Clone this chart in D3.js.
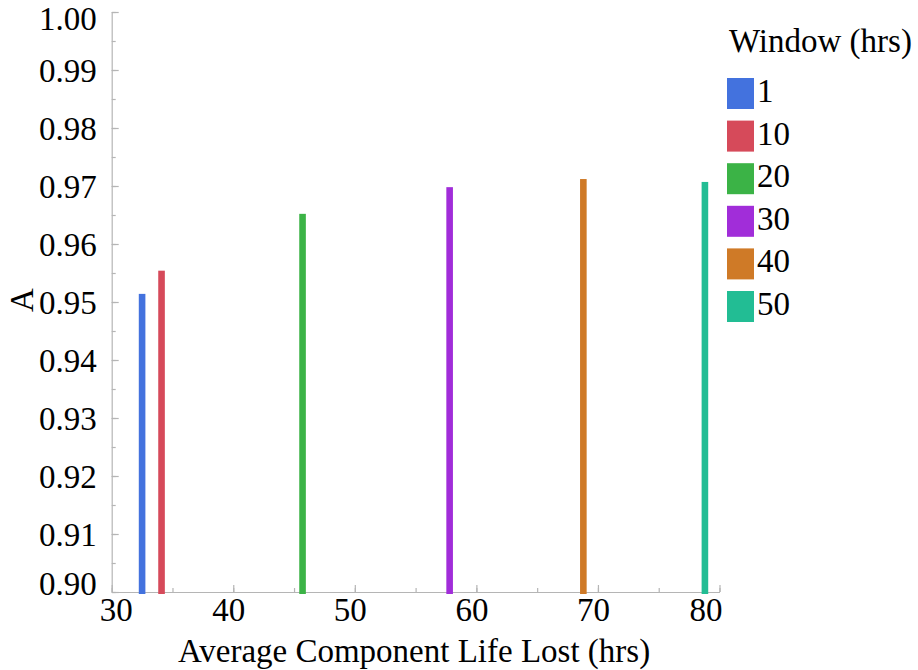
<!DOCTYPE html>
<html>
<head>
<meta charset="utf-8">
<script src="https://cdn.jsdelivr.net/npm/d3@7"></script>
<style>
  body { margin: 0; background: #fff; }
</style>
</head>
<body>
<svg width="918" height="670"></svg>
<script>
// Data
const windows = ["1", "10", "20", "30", "40", "50"];
const lifeLost = [32.5, 34.1, 45.7, 57.8, 68.8, 78.8];
const availability = [0.9514, 0.9554, 0.9652, 0.9698, 0.9712, 0.9707];
const colors = ["#4372de", "#d64a5a", "#3bb346", "#a12dd9", "#cf7a27", "#22bd94"];
const xTicks = [30, 40, 50, 60, 70, 80];
const yTicks = [0.90, 0.91, 0.92, 0.93, 0.94, 0.95, 0.96, 0.97, 0.98, 0.99, 1.00];

const svg = d3.select("svg");
const axisColor = "#b5b5b5";
const fontSize = "33px";
const serif = "'Liberation Serif', 'Times New Roman', serif";

const x = d3.scaleLinear().domain([30, 80]).range([111.7, 719.5]);
const y = d3.scaleLinear().domain([0.90, 1.00]).range([592, 12]);

const points = windows.map((w, i) => ({
  win: w, life: lifeLost[i], a: availability[i], color: colors[i]
}));

// minor ticks
svg.append("g")
  .attr("transform", "translate(0,592)")
  .call(d3.axisBottom(x).tickValues(d3.range(30, 81, 5)).tickSize(-4).tickSizeOuter(0).tickFormat(""))
  .call(g => g.select(".domain").remove());
svg.append("g")
  .attr("transform", "translate(111.7,0)")
  .call(d3.axisLeft(y).tickValues(d3.range(0, 21).map(i => 0.90 + i * 0.005)).tickSize(-4).tickSizeOuter(0).tickFormat(""))
  .call(g => g.select(".domain").remove());

// x axis
const xAxis = svg.append("g")
  .attr("transform", "translate(0,592)")
  .call(d3.axisBottom(x).tickValues(xTicks).tickSize(-7).tickSizeOuter(0).tickPadding(5.5).tickFormat(d3.format("d")));

// y axis
const yAxis = svg.append("g")
  .attr("transform", "translate(111.7,0)")
  .call(d3.axisLeft(y).tickValues(yTicks).tickSize(-7).tickSizeOuter(0).tickPadding(15).tickFormat(d3.format(".2f")));

svg.selectAll(".domain, .tick line").attr("stroke", axisColor).attr("stroke-width", 1.2);
svg.selectAll(".tick text")
  .style("font-family", serif)
  .style("font-size", fontSize)
  .attr("fill", "#000");
// end labels are kept inside the frame, as in the original
xAxis.selectAll(".tick text").attr("dx", (d) => (d === 80 ? -14 : d === 30 ? 4 : -5));
yAxis.selectAll(".tick text")
  .attr("dy", "0.34em")
  .attr("y", (d) => (Math.abs(d - 1) < 1e-9 ? 6 : Math.abs(d - 0.9) < 1e-9 ? -9 : 0));

// bars
svg.append("g")
  .selectAll("rect")
  .data(points)
  .enter()
  .append("rect")
  .attr("x", (d) => x(d.life) - 3.3)
  .attr("width", 6.6)
  .attr("y", (d) => y(d.a))
  .attr("height", (d) => y(0.90) + 2 - y(d.a))
  .attr("fill", (d) => d.color);

// axis titles
svg.append("text")
  .attr("x", 414)
  .attr("y", 662)
  .attr("text-anchor", "middle")
  .style("font-family", serif)
  .style("font-size", fontSize)
  .text("Average Component Life Lost (hrs)");

svg.append("text")
  .attr("transform", "translate(33,300) rotate(-90)")
  .attr("text-anchor", "middle")
  .style("font-family", serif)
  .style("font-size", fontSize)
  .text("A");

// legend
const legend = svg.append("g").attr("transform", "translate(727,0)");
legend.append("text")
  .attr("x", 2)
  .attr("y", 52)
  .style("font-family", serif)
  .style("font-size", fontSize)
  .text("Window (hrs)");

const rows = legend.selectAll(".row")
  .data(points)
  .enter()
  .append("g")
  .attr("class", "row")
  .attr("transform", (d, i) => "translate(0," + (78 + i * 42.6) + ")");
rows.append("rect")
  .attr("width", 27)
  .attr("height", 31)
  .attr("fill", (d) => d.color);
rows.append("text")
  .attr("x", 30)
  .attr("y", 24)
  .style("font-family", serif)
  .style("font-size", fontSize)
  .text((d) => d.win);
</script>
</body>
</html>
